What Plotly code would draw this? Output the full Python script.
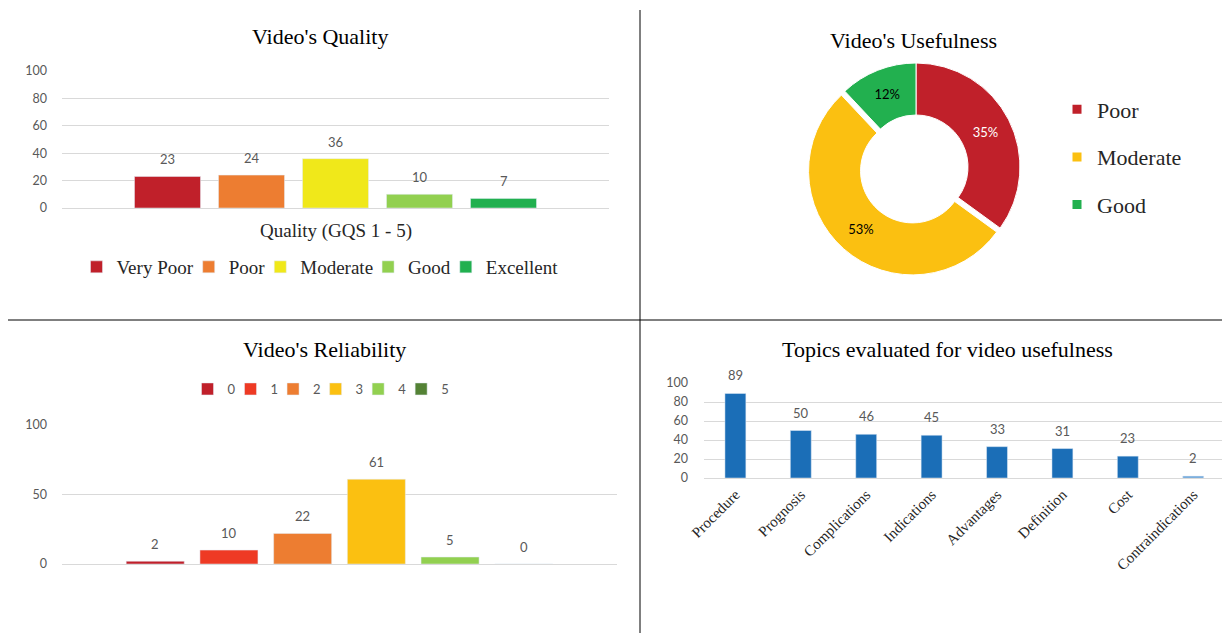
import plotly.graph_objects as go

W, H = 1222, 633

# ---------------- data ----------------
quality_labels = ["Very Poor", "Poor", "Moderate", "Good", "Excellent"]
quality_values = [23, 24, 36, 10, 7]
quality_colors = ["#C0202A", "#ED7D31", "#F0E81A", "#92D050", "#21B04F"]

usefulness_labels = ["Poor", "Moderate", "Good"]
usefulness_values = [35, 53, 12]
usefulness_colors = ["#C0202A", "#FBC011", "#22B04F"]
usefulness_text_colors = ["white", "black", "black"]

reliability_labels = ["0", "1", "2", "3", "4", "5"]
reliability_values = [2, 10, 22, 61, 5, 0]
reliability_colors = ["#C0202A", "#EE3A24", "#ED7D31", "#FBC011", "#92D050", "#548235"]

topic_labels = ["Procedure", "Prognosis", "Complications", "Indications",
                "Advantages", "Definition", "Cost", "Contraindications"]
topic_values = [89, 50, 46, 45, 33, 31, 23, 2]
topic_colors = ["#1B6EB7"] * 7 + ["#5B9BD5"]


def px(x):
    return x / W


def py(y):
    return 1 - y / H


SERIF = "Liberation Serif"
SANS = "Lato"
GRID = "#D9D9D9"
TICKC = "#595959"

fig = go.Figure()

# ---- panel 1: quality ----
for lab, val, col in zip(quality_labels, quality_values, quality_colors):
    fig.add_trace(go.Bar(x=[lab], y=[val], name=lab, marker_color=col, width=0.786,
                         xaxis="x", yaxis="y", legend="legend", showlegend=True,
                         hoverinfo="x+y"))

# ---- panel 2: usefulness donut ----
fig.add_trace(go.Pie(labels=usefulness_labels, values=usefulness_values,
                     marker=dict(colors=usefulness_colors, line=dict(color="white", width=1)),
                     hole=0.5, sort=False, direction="clockwise", rotation=0,
                     pull=[0, 0.05, 0], texttemplate="%{percent:.0%}",
                     textposition="inside", insidetextorientation="horizontal",
                     textfont=dict(family=SANS, size=13, color=usefulness_text_colors),
                     showlegend=False,
                     domain=dict(x=[px(916 - 109.2), px(916 + 109.2)],
                                 y=[py(167 + 109.2), py(167 - 109.2)])))
for i, (lab, col) in enumerate(zip(usefulness_labels, usefulness_colors)):
    fig.add_trace(go.Scatter(x=[None], y=[None], mode="markers", name=lab,
                             marker=dict(symbol="square", size=9, color=col),
                             legend="legend2", legendgroup="u" + str(i),
                             xaxis="x", yaxis="y", showlegend=True))

# ---- panel 3: reliability ----
for lab, val, col in zip(reliability_labels, reliability_values, reliability_colors):
    fig.add_trace(go.Bar(x=[lab], y=[val], name=lab, marker_color=col, width=0.787,
                         xaxis="x2", yaxis="y2", legend="legend3", showlegend=True))

# ---- panel 4: topics ----
fig.add_trace(go.Bar(x=topic_labels, y=topic_values, marker_color=topic_colors,
                     width=0.32, xaxis="x3", yaxis="y3", showlegend=False))

annotations = []
# data labels
for lab, val in zip(quality_labels, quality_values):
    annotations.append(dict(x=lab, y=val, xref="x", yref="y", text=str(val), showarrow=False,
                            yanchor="middle", yshift=17,
                            font=dict(family=SANS, size=13, color=TICKC)))
for lab, val in zip(reliability_labels, reliability_values):
    annotations.append(dict(x=lab, y=val, xref="x2", yref="y2", text=str(val), showarrow=False,
                            yanchor="middle", yshift=17,
                            font=dict(family=SANS, size=13, color=TICKC)))
for lab, val in zip(topic_labels, topic_values):
    annotations.append(dict(x=lab, y=val, xref="x3", yref="y3", text=str(val), showarrow=False,
                            yanchor="middle", yshift=18,
                            font=dict(family=SANS, size=13, color=TICKC)))

# titles
titles = [("Video's Quality", 320, 37), ("Video's Usefulness", 913, 41),
          ("Video's Reliability", 324, 349), ("Topics evaluated for video usefulness", 947, 349)]
for t, x, y in titles:
    annotations.append(dict(x=px(x), y=py(y), xref="paper", yref="paper", text=t,
                            showarrow=False, xanchor="center", yanchor="middle",
                            font=dict(family=SERIF, size=22, color="black")))
annotations.append(dict(x=px(336), y=py(231), xref="paper", yref="paper",
                        text="Quality (GQS 1 - 5)", showarrow=False,
                        xanchor="center", yanchor="middle",
                        font=dict(family=SERIF, size=19, color="#262626")))

shapes = [
    dict(type="line", xref="paper", yref="paper", x0=px(640), x1=px(640), y0=py(10), y1=0,
         line=dict(color="black", width=1)),
    dict(type="line", xref="paper", yref="paper", x0=px(8), x1=1, y0=py(320), y1=py(320),
         line=dict(color="black", width=1)),
]

yax_common = dict(range=[0, 100], showgrid=True, gridcolor=GRID, gridwidth=1,
                  zeroline=True, zerolinecolor=GRID, zerolinewidth=1, showline=False,
                  ticks="", tickfont=dict(family=SANS, size=12.5, color=TICKC),
                  fixedrange=True, automargin=False)
xax_common = dict(showgrid=False, zeroline=False, showline=False, ticks="",
                  automargin=False, fixedrange=True)

fig.update_layout(
    width=W, height=H, autosize=False,
    margin=dict(l=0, r=0, t=0, b=0, pad=0),
    paper_bgcolor="white", plot_bgcolor="white",
    barmode="overlay",
    showlegend=True,
    xaxis=dict(domain=[px(62), px(609)], anchor="y", type="category",
               categoryorder="array", categoryarray=quality_labels,
               range=[-1.256, 5.256], showticklabels=False, **xax_common),
    yaxis=dict(domain=[py(208), py(71)], anchor="x", dtick=20, ticklabelstandoff=14, **yax_common),
    xaxis2=dict(domain=[px(62), px(617)], anchor="y2", type="category",
                categoryorder="array", categoryarray=reliability_labels,
                range=[-1.265, 6.265], showticklabels=False, **xax_common),
    yaxis2=dict(domain=[py(564), py(425)], anchor="x2", dtick=50, ticklabelstandoff=14, **yax_common),
    xaxis3=dict(domain=[px(704), 1.0], anchor="y3", type="category",
                categoryorder="array", categoryarray=topic_labels,
                range=[-0.48, 7.44], tickangle=-45, ticklabelstandoff=4,
                tickfont=dict(family=SERIF, size=15, color="#262626"), **xax_common),
    yaxis3=dict(domain=[py(478), py(383)], anchor="x3", dtick=20, ticklabelstandoff=15, **yax_common),
    legend=dict(orientation="h", x=px(325), y=py(267), xanchor="center", yanchor="middle",
                font=dict(family=SERIF, size=19, color="#262626"), bgcolor="rgba(0,0,0,0)",
                itemwidth=30, indentation=-10, traceorder="normal"),
    legend2=dict(orientation="v", x=px(1072), y=py(157), xanchor="left", yanchor="middle",
                 font=dict(family=SERIF, size=22, color="#262626"), bgcolor="rgba(0,0,0,0)",
                 itemwidth=30, indentation=-15, tracegroupgap=16, traceorder="grouped"),
    legend3=dict(orientation="h", x=px(326), y=py(389), xanchor="center", yanchor="middle",
                 font=dict(family=SANS, size=13, color=TICKC), bgcolor="rgba(0,0,0,0)",
                 itemwidth=30, indentation=-10, traceorder="normal"),
    annotations=annotations,
    shapes=shapes,
)

fig.write_html("out.html", config={"displayModeBar": False},
               post_script="document.body.style.margin='0px';document.body.style.overflow='hidden';")
